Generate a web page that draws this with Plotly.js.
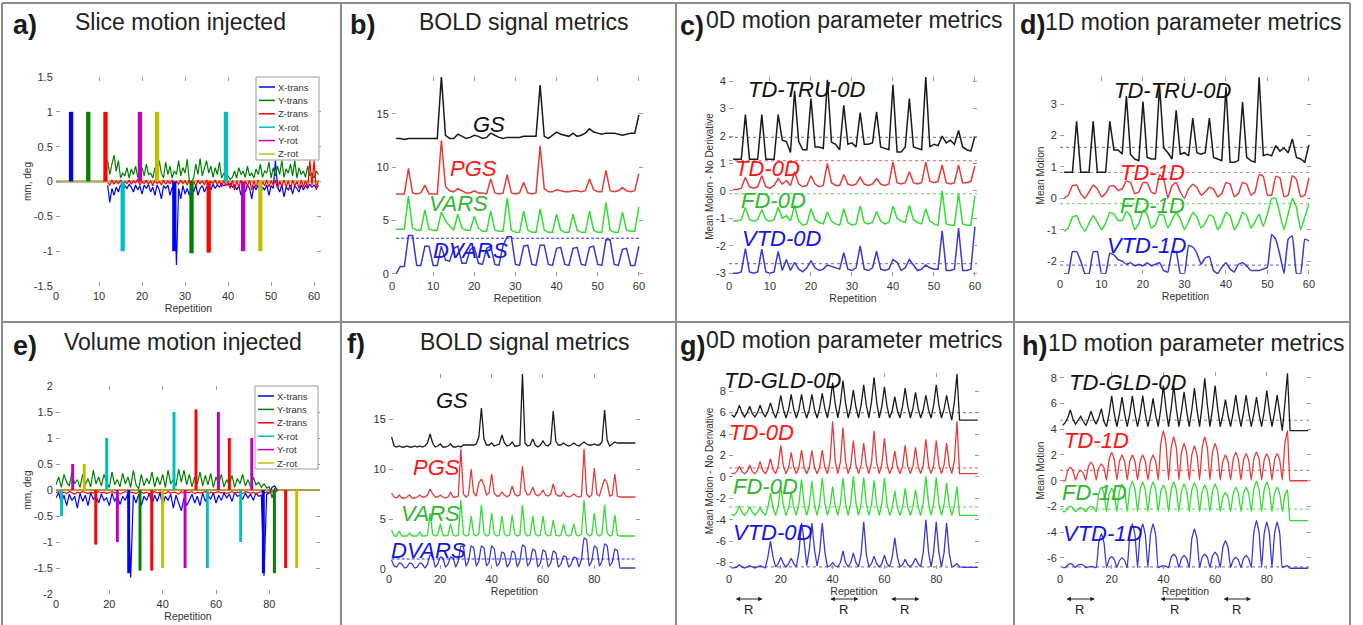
<!DOCTYPE html>
<html><head><meta charset="utf-8">
<script src="https://cdn.plot.ly/plotly-3.0.1.min.js"></script>
<style>html,body{margin:0;padding:0;background:#fff;}#chart{width:1363px;height:625px;}</style>
</head><body><div id="chart"></div>
<script>
// ===================== DATA =====================
const motionNames  = ['X-trans','Y-trans','Z-trans','X-rot','Y-rot','Z-rot'];
const motionColors = ['#0000ff','#008000','#ff0000','#00bfbf','#bf00bf','#bfbf00'];

// ---- a) slice motion injected ----
const aSpan = [0, 61];
const aNoiseStart = 12, aNoiseStep = 0.5;
const aXtransNoise = [
 -0.05,-0.3,-0.1,-0.2,-0.08,-0.15,-0.05,-0.12,-0.06,-0.1,
 -0.04,-0.08,-0.15,-0.05,-0.12,-0.06,-0.18,-0.05,-0.1,-0.04,
 -0.15,-0.08,-0.2,-0.05,-0.12,-0.25,-0.06,-0.1,-0.05,-0.2,
 -0.08,-0.15,-1.2,-0.1,-0.25,-0.06,-0.18,-0.1,-0.2,-0.08,
 -0.15,-0.05,-0.2,-0.1,-0.06,-0.15,-0.08,-0.05,-0.12,-0.04,
 -0.1,-0.05,-0.08,-0.03,-0.06,-0.04,-0.05,-0.03,-0.08,-0.05,
 -0.12,-0.06,-0.2,-0.08,-0.15,-0.05,-0.1,-0.25,-0.06,-0.12,
 -0.05,-0.18,-0.08,-0.12,-0.05,-0.2,-0.06,-0.1,0.3,-0.08,
 -0.15,-0.05,-0.22,-0.08,-0.12,-0.05,-0.18,-0.06,-0.1,-0.15,
 -0.05,-0.12,-0.06,-0.1,-0.04,-0.08,-0.05,-0.1,-0.06];
const aYtransNoise = [
 0.3,0.1,0.25,0.38,0.15,0.3,0.05,0.12,0.08,0.2,
 0.05,0.18,0.1,0.22,0.06,0.15,0.2,0.08,0.25,0.1,
 0.12,0.05,0.2,0.08,0.3,0.12,0.05,0.28,0.1,0.22,
 0.05,0.15,0.1,0.3,0.08,0.2,0.12,0.32,0.0,0.0,
 0.05,0.25,0.1,0.33,0.08,0.18,0.3,0.12,0.22,0.06,
 0.2,0.1,0.28,0.05,0.12,0.04,0.08,0.03,0.06,0.15,
 0.05,0.2,0.1,0.15,0.06,0.22,0.08,0.12,0.05,0.18,
 0.1,0.25,0.06,0.15,0.12,0.28,0.05,0.2,0.08,0.22,
 0.1,0.3,0.06,0.18,0.12,0.25,0.08,0.3,0.05,0.2,
 0.1,0.15,0.06,0.22,0.08,0.12,0.05,0.15,0.1];
const aZtransNoise = [
 -0.02,-0.05,0.02,-0.04,0.01,-0.03,0.02,-0.05,0.0,-0.03,
 0.02,-0.04,0.01,-0.02,0.03,-0.05,0.0,-0.03,0.02,-0.04,
 0.01,-0.06,0.02,-0.03,0.0,-0.05,0.02,-0.04,0.01,-0.03,
 0.02,-0.05,0.0,-0.04,0.02,-0.03,0.01,-0.05,0.02,-0.04,
 0.0,-0.06,0.02,-0.03,0.01,-0.05,0.02,-0.04,0.0,-0.03,
 0.02,-0.05,0.01,-0.08,0.02,-0.06,0.0,-0.1,0.02,-0.12,
 0.01,-0.08,0.02,-0.1,0.0,-0.06,0.02,-0.12,0.01,-0.08,
 0.02,-0.1,0.0,-0.06,0.02,-0.08,0.01,-0.05,0.02,-0.1,
 0.0,-0.06,0.02,-0.08,0.01,-0.12,0.02,-0.06,0.0,-0.1,
 0.02,-0.08,0.01,-0.1,0.3,-0.05,0.3,-0.12,0.02];
const aPulseRep    = [3.5,7.5,11.5,15.5,19.5,23.5,27.5,31.5,35.5,39.5,43.5,47.5];
const aPulseVal    = [1,1,1,-1,1,1,-1,-1.03,-1.02,1,-1,-1];
const aPulseSeries = [0,1,2,3,4,5,0,1,2,3,4,5];

// ---- e) volume motion injected ----
const eSpan = [0, 99];
const eNoiseStart = 0, eNoiseStep = 1;
const eXtransNoise = [
 -0.15,-0.05,-0.25,-0.1,-0.3,-0.08,-0.2,-0.12,-0.35,-0.06,
 -0.22,-0.1,-0.3,-0.05,-0.18,-0.12,-0.25,-0.08,-0.2,-0.15,
 -0.3,-0.06,-0.22,-0.1,-0.28,-0.12,-0.2,-0.05,-1.68,-0.1,
 -0.25,-0.08,-0.3,-0.12,-0.2,-0.06,-0.28,-0.1,-0.22,-0.05,
 -0.3,-0.12,-0.2,-0.08,-0.35,-0.1,-0.25,-0.4,-0.15,-0.3,
 -0.2,-0.08,-0.25,-0.12,-0.3,-0.06,-0.22,-0.1,-0.18,-0.05,
 -0.25,-0.1,-0.2,-0.06,-0.15,-0.08,-0.22,-0.05,-0.12,-0.1,
 -0.18,-0.06,-0.15,-0.08,-0.2,-0.05,-0.12,-0.1,-1.65,-0.08,
 -0.06,0.05,0.08,-0.02];
const eYtransNoise = [
 0.1,0.25,0.05,0.3,0.15,0.08,0.35,0.12,0.2,0.05,
 0.3,0.1,0.22,0.06,0.38,0.12,0.25,0.08,0.3,0.15,
 0.05,0.35,0.1,0.2,0.06,0.32,0.12,0.25,0.05,0.38,
 0.1,0.02,0.3,0.08,0.22,0.12,0.35,0.06,0.25,0.1,
 0.3,0.05,0.38,0.12,0.2,0.08,0.4,0.15,0.38,0.1,
 0.3,0.06,0.25,0.12,0.35,0.08,0.28,0.1,0.32,0.05,
 0.25,0.12,0.3,0.06,0.2,0.1,0.28,0.05,0.22,0.12,
 0.3,0.08,0.2,0.06,0.25,0.1,0.15,0.05,0.12,0.04,
 0.06,-0.15,0.03,0.02];
const eZtransNoise = [
 -0.05,-0.03,-0.06,-0.04,-0.07,-0.03,-0.05,-0.08,-0.04,-0.06,
 -0.03,-0.05,-0.07,-0.04,-0.06,-0.05,-0.03,-0.06,-0.04,-0.07,
 -0.05,-0.03,-0.06,-0.04,-0.08,-0.05,-0.03,-0.06,-0.04,-0.05,
 -0.07,-0.03,-0.05,-0.06,-0.04,-0.08,-0.05,-0.03,-0.06,-0.04,
 -0.05,-0.07,-0.03,-0.06,-0.04,-0.05,-0.08,-0.03,-0.06,-0.04,
 -0.05,-0.03,-0.07,-0.04,-0.06,-0.05,-0.03,-0.08,-0.04,-0.06,
 -0.05,-0.03,-0.06,-0.04,-0.07,-0.05,-0.03,-0.06,-0.04,-0.05,
 -0.07,-0.03,-0.05,-0.06,-0.04,-0.08,-0.05,-0.03,-0.06,-0.04,
 -0.05,-0.03,-0.04,-0.02];
const ePulseRep    = [2.1,6.25,10.6,14.9,19,23,27.25,31.5,35.9,40,44.25,48.4,52.5,56.75,60.9,65,69.25,73.4,77.75,81.9,86.1,90.25];
const ePulseVal    = [-0.5,0.5,0.5,-1.05,1,-1,-1.6,-1.55,-1.55,-1.5,1.5,-1.5,1.55,-1.5,1.5,1,-1,1,-1.6,-1.6,-1.5,-1.5];
const ePulseSeries = [3,4,5,2,3,4,0,1,2,5,3,4,2,3,4,2,3,4,0,1,2,5];

// ---- b) BOLD signal metrics (slice) ----
const bGS = [
 12.7,12.7,12.6,12.7,12.7,12.7,12.7,12.7,12.7,12.7,
 12.7,18.5,13.0,12.7,12.7,13.1,12.9,12.7,12.8,13.0,
 12.9,12.7,12.8,13.2,13.0,12.8,12.7,12.8,12.8,12.8,
 12.8,12.9,12.9,12.9,12.9,17.7,12.9,12.7,13.0,13.3,
 13.1,13.0,12.9,13.2,12.9,13.0,13.2,13.6,13.3,13.2,
 13.1,13.2,13.2,13.2,13.1,13.0,13.1,13.2,13.2,14.9];
const bPGS = [
 7.5,7.5,7.5,9.9,7.6,7.5,7.6,8.3,7.5,7.5,
 7.5,12.5,8.2,7.8,7.7,8.0,7.8,7.6,7.6,7.8,
 7.6,7.6,7.5,8.9,7.6,7.5,7.6,9.3,7.6,7.5,
 7.6,8.6,7.6,7.5,7.6,12.0,8.0,7.7,7.7,7.9,
 7.8,7.7,7.7,7.8,7.8,7.7,7.8,8.9,7.9,7.7,
 7.7,9.7,7.8,7.7,7.8,8.1,7.8,7.7,7.8,9.4];
const bVARS = [
 4.2,4.2,4.2,7.3,4.3,4.1,4.1,6.0,4.2,4.1,
 4.1,5.8,5.0,4.5,4.1,5.6,4.3,4.1,4.1,5.4,
 4.3,4.0,4.0,5.9,4.1,4.0,4.0,7.1,4.1,3.9,
 3.9,5.9,4.1,3.9,3.9,6.1,4.1,3.9,3.9,5.6,
 4.1,3.9,3.9,5.6,4.1,3.9,3.9,5.9,4.1,3.9,
 3.9,6.7,4.1,3.9,3.9,5.8,4.1,4.0,4.0,6.3];
const bDVARS = [
 0.0,0.7,0.7,3.6,3.6,0.8,0.8,2.6,2.6,0.8,
 0.8,2.6,1.3,1.2,2.4,2.6,1.0,1.0,2.3,2.5,
 1.0,0.9,2.4,2.6,0.9,0.8,2.7,3.5,3.5,0.9,
 0.8,2.6,2.7,0.9,0.8,2.7,2.7,0.9,0.8,2.4,
 2.5,0.9,0.8,2.4,2.5,0.9,0.8,2.5,2.6,0.9,
 0.8,3.2,3.2,0.9,0.8,2.3,2.4,0.8,0.8,2.6];
const bDvarsThreshold = 3.35;

// ---- c) 0D motion parameter metrics (slice) ----
const cTRU = [
 1.15,1.15,1.15,2.78,1.15,1.15,1.15,2.78,1.15,1.15,
 1.15,2.78,1.85,1.8,1.4,3.65,1.8,1.5,1.5,3.36,
 1.6,1.6,1.55,4.05,1.78,1.7,1.5,3.12,1.7,1.75,
 1.6,2.85,1.7,1.7,1.75,2.88,1.6,1.55,1.5,3.87,
 1.42,1.42,1.6,3.36,1.6,1.55,1.5,4.15,1.6,1.7,
 1.65,2.0,1.75,1.85,1.7,2.2,1.6,1.5,1.45,2.0];
const cTD = [
 0.05,0.05,0.1,0.5,0.15,0.1,0.15,0.55,0.15,0.1,
 0.2,0.45,0.25,0.38,0.2,0.7,0.25,0.15,0.2,0.55,
 0.25,0.15,0.2,1.0,0.3,0.2,0.2,0.6,0.25,0.2,
 0.25,0.5,0.25,0.2,0.25,0.45,0.25,0.2,0.25,1.05,
 0.3,0.25,0.3,0.7,0.3,0.25,0.3,1.05,0.35,0.3,
 0.35,0.95,0.3,0.25,0.3,0.95,0.3,0.3,0.35,0.9];
const cFD = [
 -1.1,-1.1,-1.05,-0.6,-1.05,-1.1,-1.05,-0.68,-1.05,-1.1,
 -1.05,-0.6,-1.0,-0.9,-1.1,-0.53,-1.1,-1.25,-1.2,-0.65,
 -1.05,-1.15,-1.2,-0.77,-1.1,-1.2,-1.25,-0.65,-1.15,-1.25,
 -1.2,-0.55,-1.15,-1.2,-1.15,-0.75,-1.1,-1.2,-1.15,-0.55,
 -1.0,-1.1,-1.15,-0.53,-1.05,-1.15,-1.2,-0.65,-1.1,-1.2,
 -1.25,0.0,-1.2,-1.25,-1.25,-0.1,-1.2,-1.25,-1.25,-0.17];
const cVTD = [
 -3.0,-3.0,-2.95,-2.1,-2.95,-3.0,-2.95,-2.12,-2.95,-3.0,
 -2.95,-2.2,-2.9,-2.5,-2.9,-2.6,-2.85,-2.95,-2.8,-2.55,
 -2.8,-2.9,-2.85,-2.7,-2.75,-2.8,-2.85,-2.25,-2.85,-2.9,
 -2.8,-2.0,-2.85,-2.9,-2.8,-2.2,-2.85,-2.9,-2.85,-2.5,
 -2.6,-2.9,-2.8,-2.5,-2.7,-2.9,-2.85,-2.7,-2.8,-2.85,
 -2.85,-1.45,-2.9,-2.9,-2.85,-1.35,-2.9,-2.9,-2.85,-1.3];
const cThresholds = [1.95, 1.1, -0.1, -2.65];

// ---- d) 1D motion parameter metrics (slice) ----
const dTRU = [
 0.83,0.83,0.83,2.45,0.83,0.83,0.83,2.45,0.83,0.83,
 0.83,2.45,1.54,1.54,1.41,3.25,1.4,1.25,1.2,3.08,
 1.3,1.25,1.25,3.59,1.6,1.45,1.25,2.8,1.4,1.45,
 1.35,2.55,1.45,1.4,1.45,2.55,1.3,1.25,1.2,3.54,
 1.15,1.15,1.2,3.06,1.3,1.2,1.15,3.85,1.36,1.4,
 1.35,1.68,1.5,1.6,1.45,1.89,1.3,1.25,1.15,1.7];
const dTD1 = [
 0.0,0.1,0.4,0.42,0.15,0.0,0.2,0.42,0.3,0.05,
 0.15,0.38,0.4,0.25,0.3,0.55,0.5,0.15,0.2,0.5,
 0.5,0.2,0.15,0.75,0.6,0.0,0.4,0.5,0.2,0.0,
 0.3,0.45,0.35,0.1,0.2,0.35,0.3,0.05,0.15,0.5,
 0.45,0.05,0.15,0.5,0.45,0.1,0.2,0.75,0.7,0.1,
 0.1,0.7,0.65,0.05,0.1,0.72,0.6,0.05,0.1,0.65];
const dFD1 = [
 -1.05,-0.95,-0.6,-0.55,-0.85,-1.05,-0.8,-0.55,-0.75,-1.0,
 -0.8,-0.45,-0.5,-0.7,-0.7,-0.42,-0.55,-1.0,-0.8,-0.4,
 -0.5,-0.95,-0.85,-0.5,-0.55,-0.95,-0.7,-0.45,-0.65,-1.0,
 -0.75,-0.45,-0.6,-0.95,-0.8,-0.52,-0.6,-1.0,-0.8,-0.45,
 -0.55,-1.0,-0.8,-0.45,-0.55,-0.95,-0.75,-0.5,-0.9,-0.5,
 0.0,0.0,-0.5,-1.0,-0.5,0.0,-0.3,-1.0,-0.6,-0.2];
const dVTD1 = [
 -2.4,-2.4,-1.7,-1.7,-2.0,-2.4,-2.4,-1.7,-1.7,-2.4,
 -2.4,-1.75,-1.8,-1.95,-2.0,-2.1,-2.05,-2.15,-2.1,-2.15,
 -2.05,-2.15,-2.1,-2.05,-2.3,-2.35,-1.7,-1.7,-2.4,-2.4,
 -1.5,-1.55,-1.75,-2.1,-1.9,-1.85,-2.3,-2.4,-2.2,-2.05,
 -2.25,-2.35,-2.1,-2.05,-2.15,-2.3,-2.3,-2.3,-2.25,-2.2,
 -1.15,-1.3,-1.8,-2.4,-1.3,-1.2,-2.4,-2.4,-1.3,-1.35];
const dThresholds = [1.62, 0.82, -0.17, -2.13];

// ---- f) BOLD signal metrics (volume) ----
const fGS = [
 13.2,12.3,12.2,12.3,12.2,12.2,12.3,12.2,12.2,12.3,
 12.2,12.3,12.2,12.3,12.6,13.5,12.6,12.2,12.3,12.5,
 12.2,12.2,12.3,12.5,12.2,12.2,12.3,12.2,12.4,12.4,
 12.4,12.4,12.4,12.5,13.2,16.1,13.0,12.4,12.4,12.6,
 12.3,12.4,12.5,13.4,12.6,12.3,12.4,12.7,12.3,12.3,
 12.4,19.5,12.6,12.3,12.4,13.0,12.4,12.2,12.4,12.8,
 12.4,12.3,12.6,15.8,12.8,12.4,12.4,12.6,12.4,12.3,
 12.4,12.6,12.4,12.3,12.5,12.7,12.5,12.4,12.4,12.5,
 12.4,12.4,12.7,15.9,12.9,12.3,12.5,12.7,12.6,12.6,
 12.6,12.6,12.6,12.6,12.6,12.6];
const fPGS = [
 7.6,7.2,7.1,7.4,7.1,7.1,7.2,7.4,7.1,7.1,
 7.2,7.4,7.2,7.2,7.4,8.0,7.5,7.2,7.2,7.4,
 7.2,7.1,7.2,7.7,7.2,7.2,7.3,12.0,7.5,7.2,
 7.4,10.0,7.6,7.3,8.6,9.0,8.4,7.4,7.6,9.5,
 7.6,7.3,7.3,7.7,7.4,7.2,7.4,8.3,7.5,7.3,
 7.4,10.3,7.9,7.4,7.5,8.2,7.5,7.3,7.5,7.9,
 7.4,7.3,7.5,8.5,7.5,7.3,7.3,7.7,7.3,7.2,
 7.3,7.5,7.3,7.2,7.3,12.0,7.5,7.2,7.4,10.1,
 7.5,7.3,8.2,9.0,8.6,7.3,7.4,9.5,7.3,7.2,
 7.2,7.2,7.2,7.2,7.2,7.2];
const fVARS = [
 3.9,3.3,3.3,3.8,3.3,3.3,3.3,3.6,3.3,3.3,
 3.3,3.7,3.3,3.3,3.4,5.6,3.5,3.3,3.4,4.5,
 3.4,3.3,3.4,4.5,3.4,3.3,3.4,6.9,3.5,3.3,
 3.4,5.3,3.5,3.3,3.5,6.4,3.6,3.3,3.4,5.6,
 3.5,3.3,3.4,5.3,3.5,3.3,3.4,5.4,3.5,3.3,
 3.4,6.4,3.6,3.3,3.4,5.3,3.5,3.3,3.4,5.3,
 3.5,3.3,3.4,4.9,3.4,3.3,3.4,4.5,3.4,3.3,
 3.4,4.5,3.4,3.3,3.5,6.9,3.6,3.3,3.4,5.6,
 3.5,3.3,3.5,6.4,3.6,3.3,3.4,5.4,3.4,3.3,
 3.3,3.3,3.3,3.3,3.3,3.3];
const fDVARS = [
 0.9,0.3,0.2,0.6,0.5,0.1,0.2,0.6,0.5,0.1,
 0.2,0.6,0.5,0.1,0.5,1.4,1.3,0.2,0.5,1.2,
 1.1,0.2,0.5,1.2,1.1,0.2,0.8,2.3,2.2,0.3,
 0.8,2.3,2.1,0.3,0.8,2.3,2.1,0.3,0.7,2.3,
 2.0,0.3,0.6,1.7,1.5,0.2,0.6,1.8,1.6,0.2,
 0.8,2.4,2.2,0.3,0.7,2.0,1.8,0.2,0.6,1.9,
 1.7,0.2,0.6,1.8,1.6,0.2,0.5,1.3,1.2,0.2,
 0.5,1.2,1.1,0.2,1.0,3.1,2.9,0.3,0.8,2.3,
 2.1,0.3,0.8,2.5,2.3,0.3,0.7,2.0,1.8,0.1,
 0.1,0.1,0.1,0.1,0.1,0.1];
const fDvarsThreshold = 1.0;

// ---- g) 0D motion parameter metrics (volume) ----
const gGLD = [
 5.8,5.6,6.0,6.7,6.0,5.6,6.0,6.6,5.9,5.6,
 6.0,6.7,6.0,5.6,6.1,6.9,6.1,5.5,6.3,7.6,
 6.3,5.5,6.3,7.7,6.3,5.5,6.3,7.7,6.3,5.5,
 6.3,7.7,6.3,5.5,6.4,7.8,6.4,5.5,6.8,8.8,
 6.8,5.5,6.9,9.0,6.9,5.5,6.5,8.1,6.5,5.5,
 6.7,8.6,6.7,5.5,7.0,9.3,7.0,5.5,6.6,8.4,
 6.6,5.5,6.2,7.5,6.2,5.5,6.6,8.3,6.6,5.5,
 6.4,7.9,6.4,5.5,6.3,7.6,6.3,5.5,6.7,8.6,
 6.7,5.5,6.3,7.6,6.3,5.3,7.0,9.6,5.3,5.3,
 5.3,5.3,5.3,5.3,5.3,5.3];
const gTD = [
 0.3,0.3,0.5,1.0,0.5,0.3,0.5,1.1,0.5,0.3,
 0.6,1.45,0.6,0.3,0.7,1.7,0.7,0.3,1.0,2.95,
 1.0,0.3,0.9,2.3,0.9,0.3,0.9,2.5,0.9,0.3,
 0.9,2.45,0.9,0.3,0.9,2.5,0.9,0.3,1.5,5.2,
 1.5,0.3,1.4,4.6,1.4,0.3,1.1,3.4,1.1,0.3,
 1.1,3.15,1.1,0.3,1.3,4.3,1.3,0.3,1.2,3.6,
 1.2,0.3,0.9,2.4,0.9,0.3,1.0,2.95,1.0,0.3,
 1.0,2.75,1.0,0.3,1.1,3.5,1.1,0.3,1.1,3.4,
 1.1,0.3,1.1,3.15,1.1,0.3,1.5,5.2,0.3,0.3,
 0.3,0.3,0.3,0.3,0.3,0.3];
const gFD = [
 -3.5,-3.6,-3.3,-2.7,-3.3,-3.6,-3.3,-2.8,-3.3,-3.6,
 -3.3,-2.9,-3.3,-3.6,-2.9,-1.5,-2.9,-3.6,-2.7,-0.9,
 -2.7,-3.6,-2.9,-1.4,-2.9,-3.6,-2.5,-0.25,-2.5,-3.6,
 -2.6,-0.4,-2.6,-3.6,-2.5,-0.1,-2.5,-3.6,-2.7,-0.9,
 -2.7,-3.6,-2.5,-0.1,-2.5,-3.6,-2.4,0.05,-2.4,-3.6,
 -2.5,-0.05,-2.5,-3.6,-2.6,-0.35,-2.6,-3.6,-2.5,-0.1,
 -2.5,-3.6,-2.9,-1.3,-2.9,-3.6,-2.8,-1.1,-2.8,-3.6,
 -2.8,-1.2,-2.8,-3.6,-2.4,0.05,-2.4,-3.6,-2.5,-0.05,
 -2.5,-3.6,-2.6,-0.55,-2.6,-3.6,-2.7,-0.9,-3.6,-3.6,
 -3.6,-3.6,-3.6,-3.6,-3.6,-3.6];
const gVTD = [
 -8.5,-8.5,-8.4,-8.2,-8.4,-8.5,-8.4,-8.3,-8.4,-8.5,
 -8.4,-8.3,-8.4,-8.5,-7.5,-6.0,-7.5,-8.4,-8.1,-7.5,
 -8.1,-8.4,-8.1,-7.6,-8.1,-8.4,-7.0,-4.3,-6.0,-8.3,
 -6.8,-4.3,-6.8,-8.3,-7.0,-4.3,-7.0,-8.4,-8.3,-8.0,
 -8.3,-8.4,-8.0,-6.9,-8.0,-8.4,-8.0,-7.1,-8.0,-8.4,
 -7.2,-4.2,-7.2,-8.4,-8.1,-7.4,-8.1,-8.4,-8.1,-7.3,
 -8.1,-8.4,-7.5,-5.7,-7.5,-8.4,-8.2,-7.7,-8.2,-8.4,
 -8.1,-7.6,-8.1,-8.4,-7.0,-4.0,-7.0,-8.4,-7.0,-4.2,
 -7.0,-8.4,-7.1,-4.3,-7.1,-8.4,-8.3,-8.1,-8.4,-8.45,
 -8.45,-8.45,-8.45,-8.45,-8.45,-8.45];
const gThresholds = [6.0, 0.85, -2.8, -8.4];
const gRestBlocks = [[2,13],[38.5,50],[62,73.5]];

// ---- h) 1D motion parameter metrics (volume) ----
const hGLD = [
 4.3,4.5,4.9,5.5,4.8,4.4,4.7,5.0,4.6,4.3,
 4.8,5.4,4.8,4.4,4.9,5.6,4.6,4.2,5.2,6.6,
 5.2,4.2,5.2,6.5,5.2,4.2,5.2,6.6,5.2,4.2,
 5.2,6.6,5.2,4.2,5.1,6.4,5.1,4.2,5.6,7.4,
 5.6,4.2,5.6,7.4,5.6,4.2,5.4,6.9,5.4,4.2,
 5.5,7.2,5.5,4.2,5.9,7.95,5.9,4.2,5.6,7.4,
 5.6,4.2,5.1,6.3,5.1,4.2,5.3,6.65,5.3,4.2,
 5.3,6.65,5.3,4.2,5.2,6.5,5.2,4.2,5.4,7.0,
 5.4,4.2,5.3,6.65,5.3,3.9,6.0,8.35,3.9,3.9,
 3.9,3.9,3.9,3.9,3.9,3.9];
const hTD1 = [
 0.0,0.0,0.8,1.05,0.8,0.05,0.6,0.8,0.6,0.05,
 1.1,1.45,1.1,0.05,1.0,1.3,1.0,0.05,1.65,2.2,
 1.65,0.05,1.5,2.0,1.5,0.05,1.5,2.0,1.5,0.05,
 1.5,2.0,1.5,0.05,1.5,2.0,1.5,0.05,2.9,3.9,
 2.9,0.05,2.55,3.4,2.55,0.05,2.2,2.9,2.2,0.05,
 2.0,2.7,2.0,0.05,2.55,3.4,2.55,0.05,2.2,2.9,
 2.2,0.05,1.5,2.0,1.5,0.05,1.65,2.2,1.65,0.05,
 1.6,2.1,1.6,0.05,1.7,2.25,1.7,0.05,1.6,2.1,
 1.6,0.05,1.6,2.1,1.6,0.05,2.9,3.9,0.0,0.0,
 0.0,0.0,0.0,0.0,0.0,0.0];
const hFD1 = [
 -2.4,-2.4,-2.1,-2.0,-2.1,-2.4,-2.2,-2.1,-2.2,-2.4,
 -2.1,-2.0,-2.1,-2.4,-1.0,-0.5,-1.0,-2.4,-1.05,-0.6,
 -1.05,-2.4,-0.8,-0.25,-0.8,-2.4,-0.65,-0.05,-0.65,-2.4,
 -0.7,-0.1,-0.7,-2.4,-0.7,-0.1,-0.7,-2.4,-0.85,-0.35,
 -0.85,-2.4,-0.7,-0.1,-0.7,-2.4,-0.8,-0.25,-0.8,-2.4,
 -0.7,-0.15,-0.7,-2.4,-0.85,-0.35,-0.85,-2.4,-0.8,-0.25,
 -0.8,-2.4,-1.3,-0.9,-1.3,-2.4,-1.0,-0.5,-1.0,-2.4,
 -1.0,-0.5,-1.0,-2.4,-0.65,-0.05,-0.65,-2.4,-0.7,-0.1,
 -0.7,-2.4,-1.0,-0.5,-1.0,-2.4,-1.15,-0.7,-3.1,-3.1,
 -3.1,-3.1,-3.1,-3.1,-3.1,-3.1];
const hVTD1 = [
 -6.75,-6.75,-6.55,-6.45,-6.55,-6.75,-6.55,-6.5,-6.55,-6.75,
 -6.7,-6.65,-6.7,-6.75,-4.8,-4.1,-4.8,-6.75,-6.1,-5.9,
 -6.1,-6.75,-6.2,-6.0,-6.2,-6.75,-4.2,-3.35,-4.2,-6.75,
 -4.2,-3.35,-4.2,-6.75,-4.2,-3.35,-4.2,-6.75,-6.65,-6.6,
 -6.65,-6.75,-5.95,-5.7,-5.95,-6.75,-6.05,-5.8,-6.05,-6.75,
 -4.5,-3.75,-4.5,-6.75,-5.95,-5.7,-5.95,-6.75,-5.85,-5.55,
 -5.85,-6.75,-5.2,-4.65,-5.2,-6.75,-6.15,-5.95,-6.15,-6.75,
 -6.05,-5.8,-6.05,-6.75,-4.0,-3.1,-4.0,-6.75,-4.1,-3.2,
 -4.1,-6.75,-4.1,-3.2,-4.1,-6.75,-6.65,-6.6,-6.8,-6.8,
 -6.8,-6.8,-6.8,-6.8,-6.8,-6.8];
const hThresholds = [4.7, 0.8, -2.2, -6.7];
const hRestBlocks = [[1.9,13.5],[38.3,50.3],[62.7,73.9]];

// ---- text ----
const panelLetters = ['a)','b)','c)','d)','e)','f)','g)','h)'];
const panelTitles = ['Slice motion injected','BOLD signal metrics','0D motion parameter metrics','1D motion parameter metrics',
                     'Volume motion injected','BOLD signal metrics','0D motion parameter metrics','1D motion parameter metrics'];
const boldLabels = ['GS','PGS','VARS','DVARS'];
const labelsC = ['TD-TRU-0D','TD-0D','FD-0D','VTD-0D'];
const labelsD = ['TD-TRU-0D','TD-1D','FD-1D','VTD-1D'];
const labelsG = ['TD-GLD-0D','TD-0D','FD-0D','VTD-0D'];
const labelsH = ['TD-GLD-0D','TD-1D','FD-1D','VTD-1D'];

// ===================== LAYOUT / DRAWING =====================
const W = 1363, H = 625;
const FONT = 'Liberation Sans, Arial, Helvetica, sans-serif';
const px = v => v / W, py = v => 1 - v / H;
// plot boxes [left, right, top, bottom] in px
const boxes = [[56,321,77,286],[392,643,77,276],[729,977,77,276],[1060,1311,77,274],
               [56,320,386,594],[389,640,374,569],[729,979,373,569],[1060,1311,372,569]];
const xr = [[0,61.6],[0,61],[0,60.5],[0,60.5],[0,99],[0,97.8],[0,96.5],[0,97.1]];
const yr = [[-1.5,1.5],[-0.19,18.46],[-3.1,4.15],[-2.41,3.86],[-2,2],[0,19.5],[-8.6,9.7],[-6.86,8.45]];
const yTicks = [
  [-1.5,-1,-0.5,0,0.5,1,1.5],[0,5,10,15],[-3,-2,-1,0,1,2,3,4],[-2,-1,0,1,2,3],
  [-2,-1.5,-1,-0.5,0,0.5,1,1.5,2],[0,5,10,15],[-8,-6,-4,-2,0,2,4,6,8],[-6,-4,-2,0,2,4,6,8]];
const xTicks = [[0,10,20,30,40,50,60],[0,10,20,30,40,50,60],[0,10,20,30,40,50,60],[0,10,20,30,40,50,60],
  [0,20,40,60,80],[0,20,40,60,80],[0,20,40,60,80],[0,20,40,60,80]];
const yTitles = ['mm, deg','','Mean Motion - No Derivative','Mean Motion','mm, deg','','Mean Motion - No Derivative','Mean Motion'];

const seriesColors = ['#1a1a1a','#e43c3c','#34dc34','#3a3acc'];
const textColors = ['#111111','#ff1414','#2fb82f','#1414e6'];
const dotColors = ['#8a8a8a','#e88080','#80d880','#8080c8'];

const layout = {
  width: W, height: H, margin:{l:0,r:0,t:0,b:0}, paper_bgcolor:'#fff', plot_bgcolor:'#fff',
  showlegend:false, barmode:'overlay', font:{family:FONT, color:'#333'},
  annotations:[], shapes:[]
};
const tickFmt = v => String(v);
for (let i = 0; i < 8; i++) {
  const b = boxes[i], n = i === 0 ? '' : String(i+1);
  layout['xaxis'+n] = {
    domain:[px(b[0]), px(b[1])], range:xr[i], anchor:'y'+n,
    showline:true, mirror:'ticks', linecolor:'#9a9a9a', linewidth:1,
    ticks:'inside', ticklen:4, tickcolor:'#9a9a9a', showgrid:false, zeroline:false,
    tickvals:xTicks[i], ticktext:xTicks[i].map(tickFmt), tickfont:{size:11,color:'#333',family:FONT},
    title:{text:'Repetition', font:{size:10.5,color:'#333',family:FONT}, standoff:1}, fixedrange:true
  };
  layout['yaxis'+n] = {
    domain:[py(b[3]), py(b[2])], range:yr[i], anchor:'x'+n,
    showline:true, mirror:'ticks', linecolor:'#9a9a9a', linewidth:1,
    ticks:'inside', ticklen:4, tickcolor:'#9a9a9a', showgrid:false, zeroline:false,
    tickvals:yTicks[i], ticktext:yTicks[i].map(tickFmt), tickfont:{size:11,color:'#333',family:FONT},
    title:{text:yTitles[i], font:{size:10,color:'#333',family:FONT}, standoff:0}, fixedrange:true
  };
}

const traces = [];
const axId = i => (i === 0 ? '' : String(i+1));
function addLine(i, x, y, color, width, extra) {
  traces.push(Object.assign({type:'scatter', mode:'lines', x, y, xaxis:'x'+axId(i), yaxis:'y'+axId(i),
    line:{color, width}, hoverinfo:'skip', cliponaxis:true}, extra || {}));
}
const reps = n => Array.from({length:n}, (_, k) => k + 1);

// ---- motion panels (a, e) ----
function motionPanel(i, span, noiseStart, noiseStep, noises, pulseRep, pulseVal, pulseSeries, barWidth) {
  for (let s = 3; s < 6; s++) addLine(i, span, [0, 0], motionColors[s], 1.3);
  noises.forEach((arr, s) => {
    addLine(i, arr.map((_, k) => noiseStart + k * noiseStep), arr, motionColors[s], 1.2);
  });
  for (let s = 0; s < 6; s++) {
    const xs = [], ys = [];
    pulseSeries.forEach((ser, k) => { if (ser === s) { xs.push(pulseRep[k]); ys.push(pulseVal[k]); } });
    traces.push({type:'bar', x:xs, y:ys, width:barWidth, xaxis:'x'+axId(i), yaxis:'y'+axId(i),
      marker:{color:motionColors[s], line:{width:0}}, hoverinfo:'skip', zorder:1});
  }
  const b = boxes[i];
  const L = b[1] - 65, R = b[1] - 2, T = b[2], B = b[2] + 83;
  layout.shapes.push({type:'rect', xref:'paper', yref:'paper', x0:px(L), x1:px(R), y0:py(B), y1:py(T),
    line:{color:'#9a9a9a', width:1}, fillcolor:'#fff', layer:'above'});
  motionNames.forEach((nm, s) => {
    const yy = T + 10 + 13.4 * s;
    layout.shapes.push({type:'line', xref:'paper', yref:'paper', x0:px(L+3), x1:px(L+19), y0:py(yy), y1:py(yy),
      line:{color:motionColors[s], width:1.5}, layer:'above'});
    layout.annotations.push({xref:'paper', yref:'paper', x:px(L+20), y:py(yy), xanchor:'left', yanchor:'middle',
      text:nm, showarrow:false, font:{size:9.5, color:'#333', family:FONT}});
  });
}
motionPanel(0, aSpan, aNoiseStart, aNoiseStep, [aXtransNoise, aYtransNoise, aZtransNoise], aPulseRep, aPulseVal, aPulseSeries, 1);
motionPanel(4, eSpan, eNoiseStart, eNoiseStep, [eXtransNoise, eYtransNoise, eZtransNoise], ePulseRep, ePulseVal, ePulseSeries, 1.1);

// ---- metric panels ----
function metricPanel(i, series, labels, labelPos, thresholds, width, smoothFrom) {
  const x = reps(series[0].length);
  if (thresholds) thresholds.forEach((t, s) => {
    layout.shapes.push({type:'line', xref:'x'+axId(i)+' domain', yref:'y'+axId(i), x0:0, x1:1, y0:t, y1:t,
      line:{color:dotColors[s], width:1.2, dash:'dot'}, layer:'below'});
  });
  series.forEach((y, s) => {
    const smooth = smoothFrom !== undefined && s >= smoothFrom;
    addLine(i, x, y, seriesColors[s], width, smooth ? {line:{color:seriesColors[s], width, shape:'spline', smoothing:0.3}} : {});
  });
  labels.forEach((t, s) => {
    layout.annotations.push({xref:'x'+axId(i), yref:'y'+axId(i), x:labelPos[s][0], y:labelPos[s][1],
      text:'<i>'+t+'</i>', showarrow:false, xanchor:'center', yanchor:'middle',
      font:{size:22, color:textColors[s], family:FONT}});
  });
}
metricPanel(1, [bGS,bPGS,bVARS,bDVARS], boldLabels, [[23.5,14.0],[19.7,9.9],[16.1,6.6],[19,2.2]], null, 1.5);
metricPanel(2, [cTRU,cTD,cFD,cVTD], labelsC, [[19,3.68],[9.5,0.83],[10.8,-0.34],[12.9,-1.72]], cThresholds, 1.5);
metricPanel(3, [dTRU,dTD1,dFD1,dVTD1], labelsD, [[27.2,3.44],[22.4,0.83],[22.4,-0.22],[20.9,-1.5]], dThresholds, 1.5, 1);
metricPanel(5, [fGS,fPGS,fVARS,fDVARS], boldLabels, [[24.5,16.9],[18.7,10.2],[16,5.6],[15.2,1.9]], null, 1.3, 3);
metricPanel(6, [gGLD,gTD,gFD,gVTD], labelsG, [[20.8,9.0],[12.7,4.1],[13.9,-0.9],[17,-5.2]], gThresholds, 1.3);
metricPanel(7, [hGLD,hTD1,hFD1,hVTD1], labelsH, [[26.3,7.65],[14.3,3.15],[13.5,-0.9],[16.6,-4.1]], hThresholds, 1.3, 1);

[[1, bDVARS, bDvarsThreshold], [5, fDVARS, fDvarsThreshold]].forEach(([i, arr, t]) => {
  const x = reps(arr.length);
  addLine(i, [x[0], x[x.length-1]], [t, t], '#2a2ad8', 1.2, {line:{color:'#2a2ad8', width:1.2, dash:'3px,2px'}});
});

[[6, gRestBlocks], [7, hRestBlocks]].forEach(([i, blocks]) => {
  blocks.forEach(([s, e]) => {
    layout.annotations.push({xref:'x'+axId(i), yref:'paper', x:e, y:py(599), axref:'x'+axId(i), ax:s, ayref:'pixel', ay:0,
      text:'', showarrow:true, arrowhead:2, arrowside:'end+start', arrowsize:0.9, arrowwidth:1, arrowcolor:'#222', standoff:0, startstandoff:0});
    layout.annotations.push({xref:'x'+axId(i), yref:'paper', x:(s+e)/2, y:py(609), text:'R', showarrow:false,
      xanchor:'center', yanchor:'middle', font:{size:13, color:'#222', family:FONT}});
  });
});

const letterPos = [[25,25],[362,25],[692,26],[1032,25],[25,346],[356,344],[692,346],[1034,346]];
const titlePos = [[180,22],[524,22],[854,20],[1193,22],[183,342],[525,342],[854,340],[1196,343]];
for (let i = 0; i < 8; i++) {
  layout.annotations.push({xref:'paper', yref:'paper', x:px(letterPos[i][0]), y:py(letterPos[i][1]), text:'<b>'+panelLetters[i]+'</b>',
    showarrow:false, xanchor:'center', yanchor:'middle', font:{size:27, color:'#1a1a1a', family:FONT}});
  layout.annotations.push({xref:'paper', yref:'paper', x:px(titlePos[i][0]), y:py(titlePos[i][1]), text:panelTitles[i],
    showarrow:false, xanchor:'center', yanchor:'middle', font:{size:23, color:'#222', family:FONT}});
}

[2, 341, 676, 1014, 1350].forEach(xv => layout.shapes.push({type:'line', xref:'paper', yref:'paper',
  x0:px(xv), x1:px(xv), y0:py(3), y1:py(625), line:{color:'#8c8c8c', width:2}}));
[3, 322].forEach(yv => layout.shapes.push({type:'line', xref:'paper', yref:'paper',
  x0:px(2), x1:px(1350), y0:py(yv), y1:py(yv), line:{color:'#8c8c8c', width:2}}));

Plotly.newPlot('chart', traces, layout, {staticPlot:true, displayModeBar:false});
</script>
</body></html>
